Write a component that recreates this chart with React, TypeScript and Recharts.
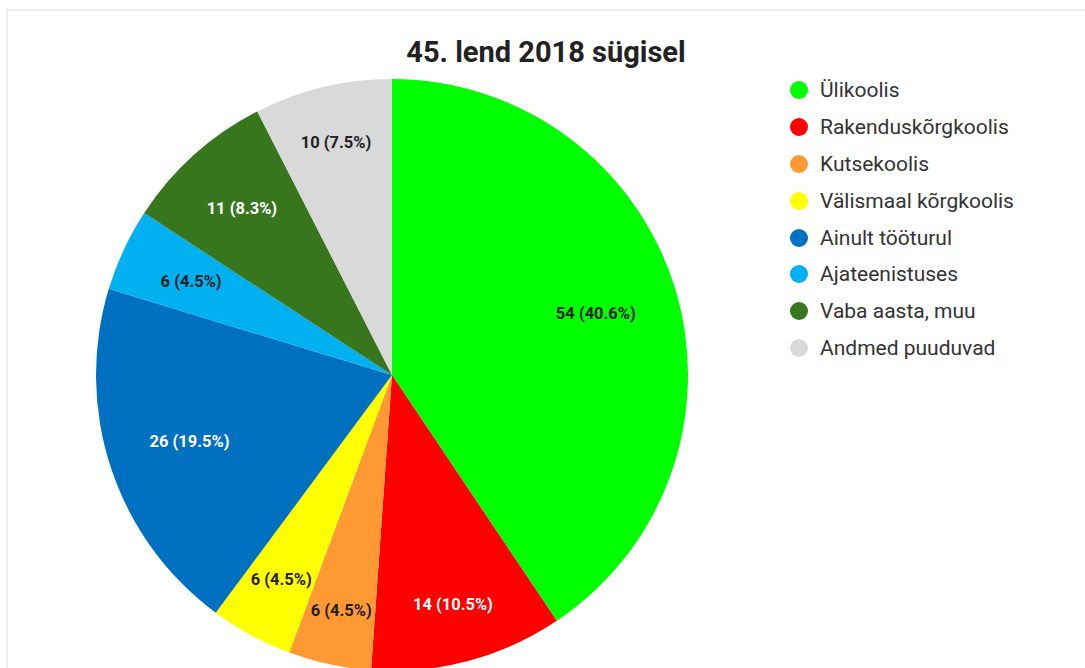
import React from "react";
import { PieChart, Pie, Cell, Legend } from "recharts";

const categories = [
  "Ülikoolis",
  "Rakenduskõrgkoolis",
  "Kutsekoolis",
  "Välismaal kõrgkoolis",
  "Ainult tööturul",
  "Ajateenistuses",
  "Vaba aasta, muu",
  "Andmed puuduvad",
];
const counts = [54, 14, 6, 6, 26, 6, 11, 10];
const colors = ["#00ff00", "#ff0000", "#ff9933", "#ffff00", "#0070c0", "#00b0f0", "#38761d", "#d9d9d9"];
const labelColors = ["#222", "#fff", "#222", "#222", "#fff", "#222", "#fff", "#222"];

const total = counts.reduce((a, b) => a + b, 0);
const data = categories.map((name, i) => ({ name, value: counts[i] }));

const RAD = Math.PI / 180;
const LABEL_SIZE = 16.5;

// label box is pushed out until its outer edge sits near 86% of the radius
const renderLabel = (props: any) => {
  const { cx, cy, midAngle, outerRadius, value, index } = props;
  const pct = ((value / total) * 100).toFixed(1);
  const text = `${value} (${pct}%)`;
  const cos = Math.cos(-midAngle * RAD);
  const sin = Math.sin(-midAngle * RAD);
  const halfW = text.length * LABEL_SIZE * 0.25;
  const halfH = 7;
  const r = outerRadius * 0.86 - (halfW * Math.abs(cos) + halfH * Math.abs(sin));
  const x = cx + r * cos;
  const y = cy + r * sin;
  return (
    <text
      x={x}
      y={y}
      fill={labelColors[index]}
      textAnchor="middle"
      dominantBaseline="central"
      fontFamily="Roboto"
      fontWeight="bold"
      fontSize={LABEL_SIZE}
    >
      {text}
    </text>
  );
};

const renderLegend = () => (
  <div style={{ fontFamily: "Roboto", fontSize: 21, color: "#333" }}>
    {categories.map((c, i) => (
      <div key={c} style={{ display: "flex", alignItems: "center", height: 36.8 }}>
        <span
          style={{
            width: 18,
            height: 18,
            borderRadius: "50%",
            background: colors[i],
            display: "inline-block",
            marginRight: 12,
          }}
        />
        {c}
      </div>
    ))}
  </div>
);

const App: React.FC = () => {
  return (
    <div style={{ position: "absolute", left: 0, top: 0, width: 1085, height: 668, overflow: "hidden", background: "#fff" }}>
      <div
        style={{
          position: "absolute",
          left: 6,
          top: 9,
          width: 1100,
          height: 700,
          borderLeft: "2px solid #eeeeee",
          borderTop: "2px solid #eeeeee",
        }}
      />
      <div
        style={{
          position: "absolute",
          left: 346,
          width: 400,
          top: 33,
          textAlign: "center",
          fontFamily: "Roboto",
          fontWeight: "bold",
          fontSize: 29,
          lineHeight: "38px",
          color: "#222",
        }}
      >
        45. lend 2018 sügisel
      </div>
      <div style={{ position: "absolute", left: 0, top: 0 }}>
        <PieChart width={1085} height={668} margin={{ top: 0, right: 0, bottom: 0, left: 0 }}>
          <Pie
            data={data}
            dataKey="value"
            nameKey="name"
            cx={392}
            cy={375}
            outerRadius={296}
            startAngle={90}
            endAngle={-270}
            stroke="none"
            label={renderLabel}
            labelLine={false}
            isAnimationActive={false}
          >
            {data.map((d, i) => (
              <Cell key={d.name} fill={colors[i]} />
            ))}
          </Pie>
          <Legend
            layout="vertical"
            verticalAlign="top"
            align="right"
            content={renderLegend}
            wrapperStyle={{ left: 790, top: 72, width: 290 }}
          />
        </PieChart>
      </div>
    </div>
  );
};

export default App;
